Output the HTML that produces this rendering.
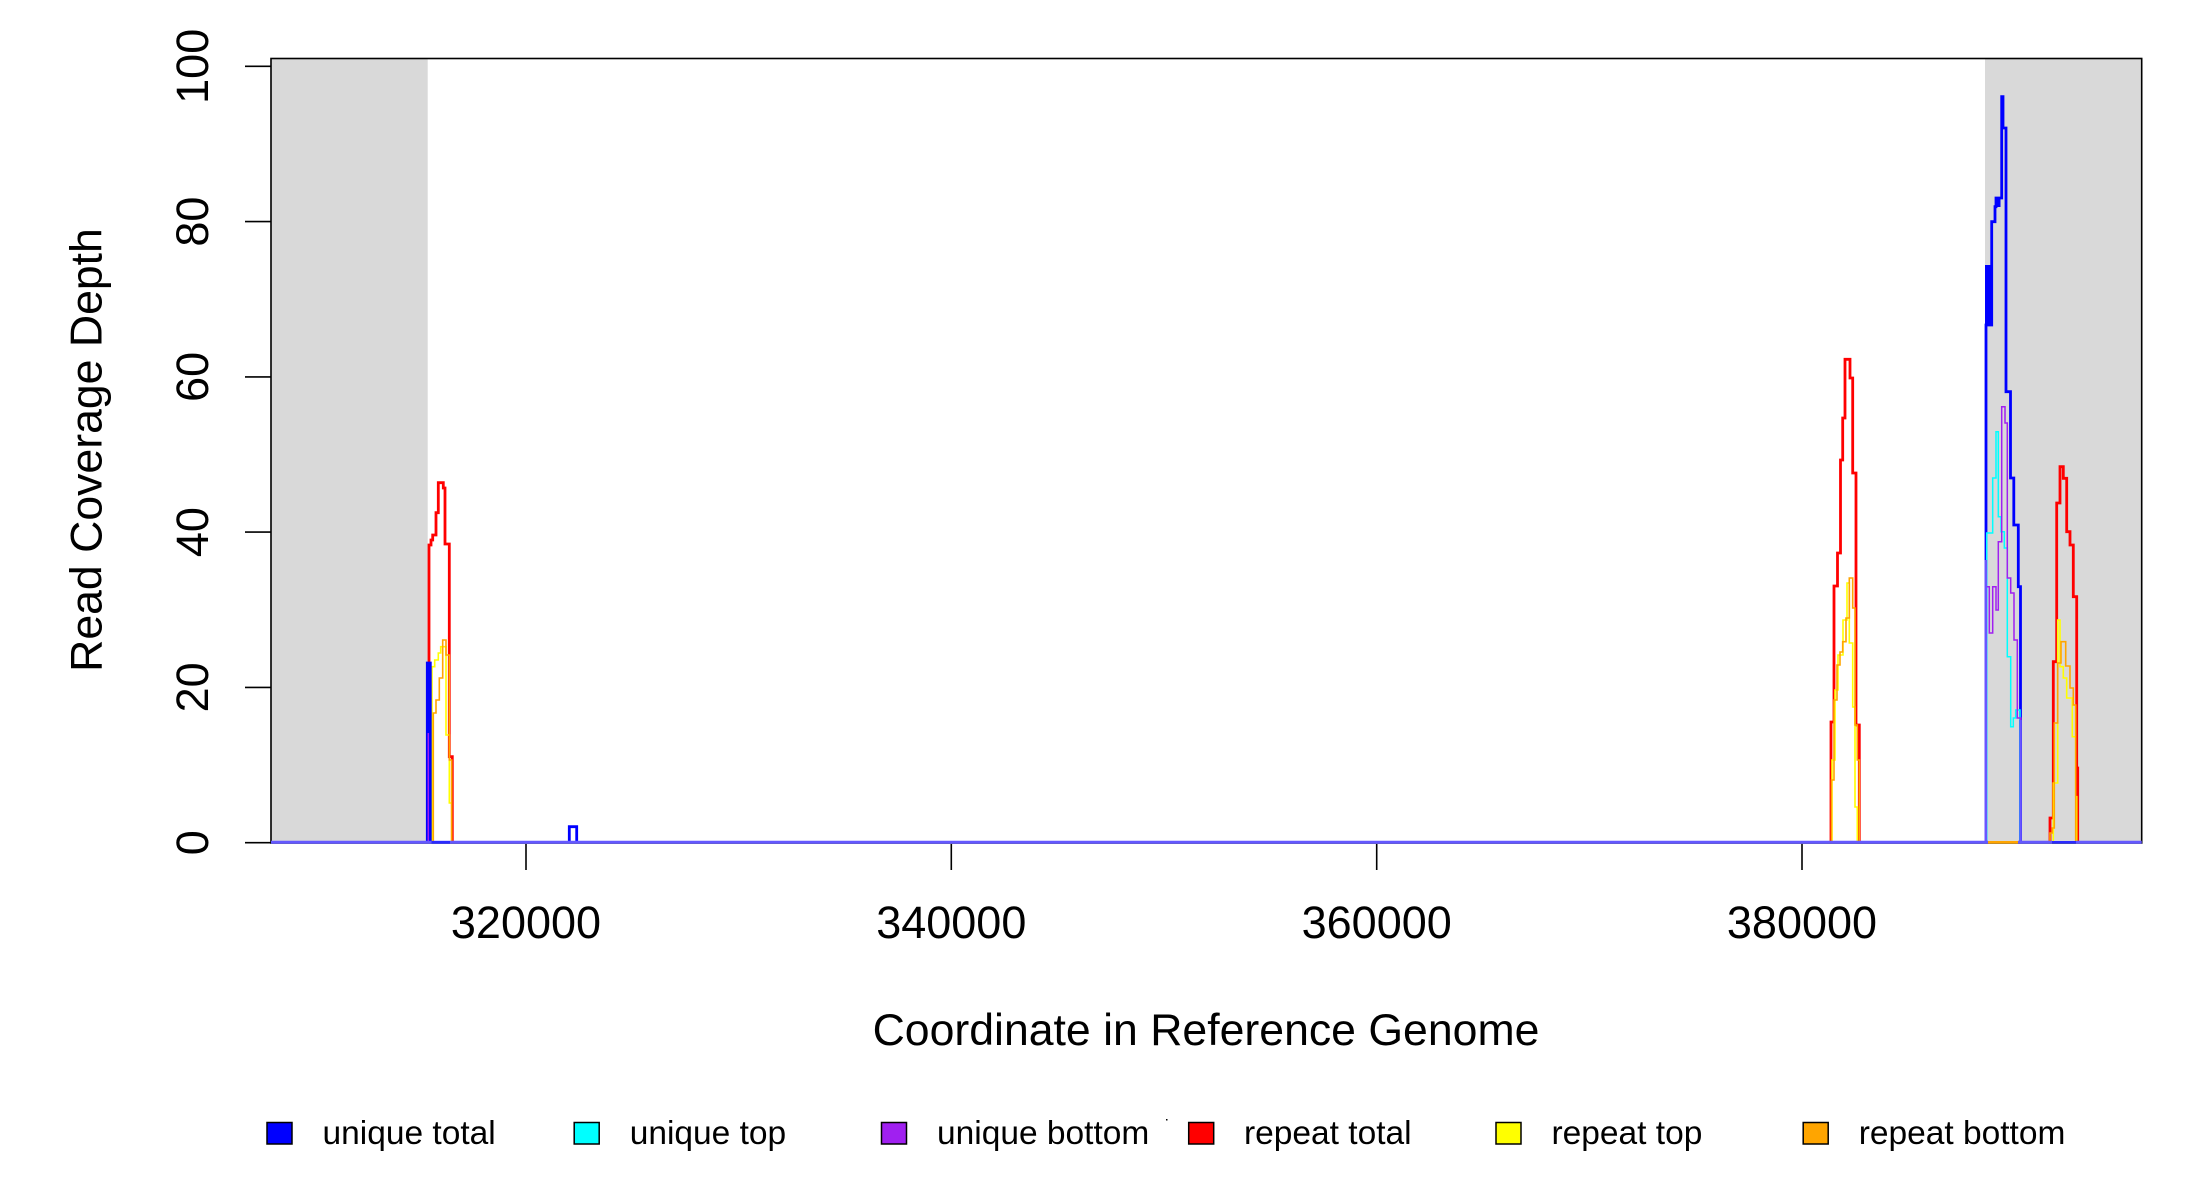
<!DOCTYPE html>
<html><head><meta charset="utf-8"><style>
html,body{margin:0;padding:0;background:#fff;}
svg{display:block;}
text{font-family:"Liberation Sans",Arial,sans-serif;fill:#000;}
</style></head><body>
<svg width="2200" height="1200" viewBox="0 0 2200 1200" xmlns="http://www.w3.org/2000/svg">
<rect x="0" y="0" width="2200" height="1200" fill="#fff"/>
<!-- shaded regions -->
<rect x="271" y="58.5" width="156.7" height="784.5" fill="#d9d9d9"/>
<rect x="1985" y="58.5" width="156.7" height="784.5" fill="#d9d9d9"/>

<g fill="none" stroke-linejoin="miter" stroke-linecap="butt">
<!-- repeat total (red) -->
<path stroke="#ff0000" stroke-width="2.8" d="M429,842.7 V545 H431 V540 H432.7 V535 H436 V512.7 H438.3 V482.7 H443.3 V488 H445 V544 H449.3 V756.7 H452.3 V842.7"/>
<path stroke="#ff0000" stroke-width="2.8" d="M1831,842.7 V722 H1834 V586 H1837.5 V553 H1840.5 V460 H1842.7 V418 H1845 V359.3 H1850 V378 H1852.7 V473 H1856 V725 H1859.3 V842.7"/>
<path stroke="#ff0000" stroke-width="2.8" d="M2050,842.7 V818 H2053.3 V661.7 H2056.7 V503 H2060 V466.7 H2063.3 V478.3 H2066.7 V531.7 H2070 V545 H2073.3 V596.7 H2076.7 V768 H2077.7 V842.7"/>
<!-- repeat top (yellow) -->
<path stroke="#ffff00" stroke-width="1.6" d="M432,842.7 V666.7 H434.7 V660 H438.3 V653 H440.7 V646.7 H446 V735 H449.3 V803 H451.7 V842.7"/>
<path stroke="#ffff00" stroke-width="1.6" d="M1832,842.7 V760 H1835 V690 H1838 V655 H1843 V620 H1847 V583 H1849.3 V643 H1852.7 V707 H1855 V807 H1857.3 V842.7"/>
<path stroke="#ffff00" stroke-width="1.6" d="M2053.3,842.7 V783 H2057.7 V620 H2060 V666.7 H2063.3 V678 H2066.7 V698 H2072.3 V736.7 H2075.7 V796.7 H2076.7 V842.7"/>
<!-- repeat bottom (orange) -->
<path stroke="#ffa500" stroke-width="1.6" d="M433.3,842.7 V713 H436 V700 H439.3 V678 H442.7 V640 H446 V655 H449.3 V760 H451.7 V842.7"/>
<path stroke="#ffa500" stroke-width="1.6" d="M1831.5,842.7 V780 H1834 V700 H1837 V665 H1840 V652 H1842.7 V641.7 H1846 V618 H1849.3 V578 H1852.7 V608 H1855 V725 H1857.3 V760 H1859.3 V842.7"/>
<path stroke="#ffa500" stroke-width="1.6" d="M2050,842.7 V833 H2052.3 V828 H2054.3 V723 H2057.7 V663 H2061 V641.7 H2065.7 V666 H2070 V688 H2073.3 V705 H2075.7 V842.7"/>
<!-- unique total (blue) -->
<rect x="426" y="663" width="5.5" height="70" fill="#0000ff" stroke="none"/>
<path stroke="#0000ff" stroke-width="2.8" d="M427.3,842.7 V663 H430.3 V842.7"/>
<rect x="1985" y="265" width="7.5" height="60" fill="#0000ff" stroke="none"/>
<rect x="1995" y="198" width="5.5" height="9" fill="#0000ff" stroke="none"/>
<rect x="2000.7" y="96.7" width="2.8" height="31" fill="#0000ff" stroke="none"/>
<path stroke="#0000ff" stroke-width="2.8" d="M1986,842.7 V325 H1991.7 V221.7 H1995 V206.7 H1996 V198 H2001.7 V96.7 H2003 V128 H2006 V391.7 H2010.5 V478 H2013.8 V525 H2018.3 V586.7 H2020.5 V842.7"/>
<path stroke="#0000ff" stroke-width="2.8" d="M569.3,842.7 V826.7 H576.7 V842.7"/>
<!-- unique top (cyan) -->
<path stroke="#00ffff" stroke-width="1.5" d="M1986.7,842.7 V533 H1992.7 V478 H1996 V431.7 H1998.3 V516.7 H2001 V531.7 H2004.3 V548 H2007.3 V656.7 H2010.7 V726.7 H2013.3 V718 H2015.7 V710 H2020 V842.7"/>
<!-- unique bottom (purple) -->
<path stroke="#a020f0" stroke-width="1.5" d="M428.3,842.7 V733"/>
<path stroke="#a020f0" stroke-width="1.5" d="M1986,842.7 V586.7 H1989.3 V633 H1992.7 V586.7 H1996 V610 H1998.3 V541.7 H2001.7 V406.7 H2005 V423 H2007.3 V578 H2010.7 V593 H2014 V640 H2017.3 V718 H2020.7 V842.7"/>
<path stroke="#6a55ff" stroke-width="2.6" d="M1985.8,842.7 V560"/>
<path stroke="#6a55ff" stroke-width="2.2" d="M2020.6,842.7 V720"/>
</g>

<!-- box -->
<rect x="271" y="58.5" width="1870.7" height="784.5" fill="none" stroke="#000" stroke-width="1.6"/>

<!-- baseline (drawn over box) -->
<g fill="none">
<path stroke="#6458ff" stroke-width="3" d="M271,842.3 H1988 M2018,842.3 H2052 M2076,842.3 H2141.7"/>
<path stroke="#ffa500" stroke-width="2.6" d="M1988,842.3 H2018"/>
<path stroke="#2a2aff" stroke-width="2.6" d="M2052,842.3 H2076 M431.5,842.3 H450"/>
</g>

<!-- ticks -->
<g stroke="#000" stroke-width="1.6">
<line x1="245" y1="842.7" x2="271" y2="842.7"/>
<line x1="245" y1="687.4" x2="271" y2="687.4"/>
<line x1="245" y1="532.1" x2="271" y2="532.1"/>
<line x1="245" y1="376.9" x2="271" y2="376.9"/>
<line x1="245" y1="221.6" x2="271" y2="221.6"/>
<line x1="245" y1="66.3" x2="271" y2="66.3"/>
<line x1="526" y1="844" x2="526" y2="870"/>
<line x1="951.3" y1="844" x2="951.3" y2="870"/>
<line x1="1376.7" y1="844" x2="1376.7" y2="870"/>
<line x1="1802" y1="844" x2="1802" y2="870"/>
</g>
<g font-size="45" text-anchor="middle">
<text transform="translate(208,842.7) rotate(-90)">0</text>
<text transform="translate(208,687.4) rotate(-90)">20</text>
<text transform="translate(208,532.1) rotate(-90)">40</text>
<text transform="translate(208,376.9) rotate(-90)">60</text>
<text transform="translate(208,221.6) rotate(-90)">80</text>
<text transform="translate(208,66.3) rotate(-90)">100</text>
<text x="526" y="938">320000</text>
<text x="951.3" y="938">340000</text>
<text x="1376.7" y="938">360000</text>
<text x="1802" y="938">380000</text>
</g>
<g font-size="44.6" text-anchor="middle">
<text x="1206" y="1045">Coordinate in Reference Genome</text>
<text transform="translate(101.7,450) rotate(-90)">Read Coverage Depth</text>
</g>

<!-- legend -->
<g stroke="#000" stroke-width="1.5">
<rect x="267" y="1122.5" width="25" height="21.5" fill="#0000ff"/>
<rect x="574.2" y="1122.5" width="25" height="21.5" fill="#00ffff"/>
<rect x="881.5" y="1122.5" width="25" height="21.5" fill="#a020f0"/>
<rect x="1188.7" y="1122.5" width="25" height="21.5" fill="#ff0000"/>
<rect x="1496" y="1122.5" width="25" height="21.5" fill="#ffff00"/>
<rect x="1803.2" y="1122.5" width="25" height="21.5" fill="#ffa500"/>
</g>
<rect x="1166" y="1119" width="1.5" height="1.5" fill="#000"/>
<g font-size="33.5">
<text x="322.5" y="1144">unique total</text>
<text x="629.7" y="1144">unique top</text>
<text x="937" y="1144">unique bottom</text>
<text x="1244" y="1144">repeat total</text>
<text x="1551.5" y="1144">repeat top</text>
<text x="1858.7" y="1144">repeat bottom</text>
</g>
</svg>
</body></html>
